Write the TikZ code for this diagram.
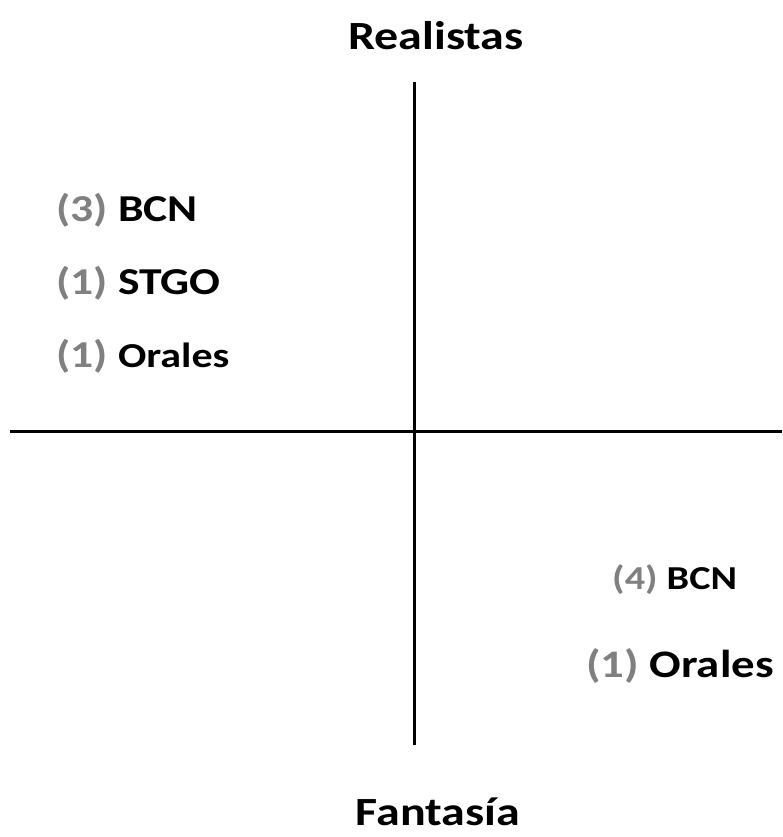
\documentclass[tikz,border=0pt]{standalone}
\usepackage{fontspec}
\setmainfont{Carlito}[FakeStretch=1.2]
\usetikzlibrary{positioning}
\definecolor{numgray}{RGB}{128,128,128}
\tikzset{axis/.style={line width=3pt},title/.style={anchor=base,inner sep=0pt,font=\bfseries\fontsize{40}{46}\selectfont},entry/.style={anchor=base west,inner sep=0pt,font=\bfseries\fontsize{38}{44}\selectfont}}

\begin{document}
\begin{tikzpicture}[x=1pt,y=-1pt]
\useasboundingbox (0,0) rectangle (782,837);
\coordinate (top) at (414,82);\coordinate (bot) at (414,745);
\coordinate (left) at (10,431);\coordinate (right) at (782,431);
\draw[axis] (top)--(bot);\draw[axis] (left)--(right);
\node[title] (real) at (436,50) {Realistas};
\node[title] (fant) at (438,825) {Fantasía};
% upper left quadrant
\node[entry] (b3) at (56,221) {\textcolor{numgray}{(3)} BCN};
\node[entry] (s1) at (56,294) {\textcolor{numgray}{(1)} STGO};
\node[entry] (o1) at (56,367) {\textcolor{numgray}{(1)} {\fontsize{35}{40}\selectfont Orales}};
% lower right quadrant
\node[entry,font=\bfseries\fontsize{33.5}{38}\selectfont] (b4) at (612,589) {\textcolor{numgray}{(4)} BCN};
\node[entry,font=\bfseries\fontsize{39}{46}\selectfont] (o2) at (586,677) {\textcolor{numgray}{(1)} Orales};
\end{tikzpicture}
\end{document}
